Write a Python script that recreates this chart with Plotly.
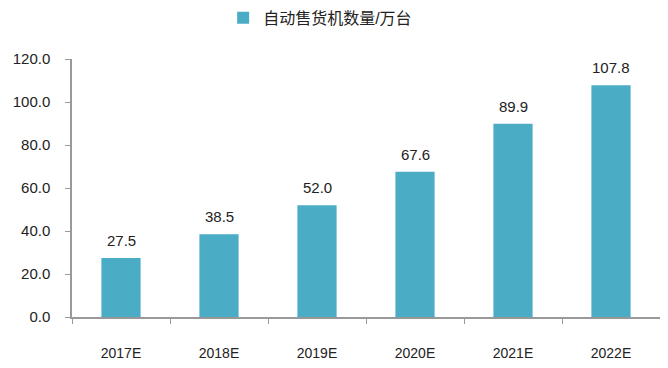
import plotly.graph_objects as go

categories = ["2017E", "2018E", "2019E", "2020E", "2021E", "2022E"]
values = [27.5, 38.5, 52.0, 67.6, 89.9, 107.8]
series_name = "自动售货机数量/万台"
y_ticks = [0, 20, 40, 60, 80, 100, 120]

font_family = "Liberation Sans, Noto Sans CJK SC, sans-serif"

fig = go.Figure()
fig.add_trace(go.Bar(
    x=categories, y=values, name=series_name,
    marker=dict(color="#4BACC6", line=dict(width=0)),
    showlegend=True,
))
for c, v in zip(categories, values):
    fig.add_annotation(x=c, y=v, text=f"{v:.1f}", showarrow=False,
                       yanchor="bottom", yshift=7,
                       font=dict(size=15, color="#222"))
fig.update_layout(
    width=652, height=352,
    margin=dict(l=64, r=0, t=51, b=43, autoexpand=False),
    paper_bgcolor="white", plot_bgcolor="white",
    font=dict(family=font_family, color="#222", size=13),
    bargap=0.6,
    showlegend=True,
    legend=dict(orientation="h", x=0.33, xref="container", xanchor="left",
                y=0.972, yref="container", yanchor="middle",
                font=dict(size=16, color="#222"), itemwidth=30),
    xaxis=dict(showline=True, linecolor="#999", linewidth=1.5, ticks="outside",
               tickson="boundaries", ticklen=5, tickcolor="#999",
               ticklabelstandoff=22, automargin=False,
               tickfont=dict(size=14, color="#222"), showgrid=False),
    yaxis=dict(range=[0, 120], tickvals=y_ticks, tickformat=".1f",
               showline=True, linecolor="#999", linewidth=1.5, ticks="outside",
               ticklen=5, tickcolor="#999", showgrid=False, zeroline=False,
               ticklabelstandoff=12, automargin=False,
               tickfont=dict(size=15, color="#222")),
)
fig.write_html("out.html")
